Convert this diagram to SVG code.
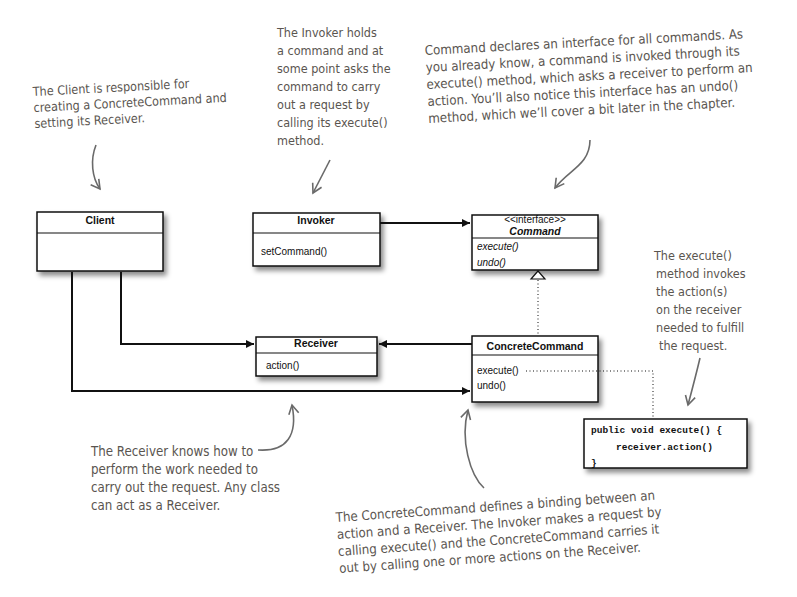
<svg xmlns="http://www.w3.org/2000/svg" width="797" height="597" viewBox="0 0 797 597">
<defs>
<filter id="sh" x="-10%" y="-10%" width="130%" height="140%">
<feDropShadow dx="3" dy="4" stdDeviation="2.5" flood-color="#000" flood-opacity="0.45"/>
</filter>
<marker id="fa" viewBox="0 0 10 10" refX="10" refY="5" markerWidth="10" markerHeight="8" markerUnits="userSpaceOnUse" orient="auto">
<path d="M0,0 L10,5 L0,10 Z" fill="#111"/>
</marker>
<marker id="ha" viewBox="0 0 12 12" refX="10" refY="6" markerWidth="12" markerHeight="12" markerUnits="userSpaceOnUse" orient="auto">
<path d="M1,1 L10,6 L1,11" fill="none" stroke="#6a6a6a" stroke-width="1.6"/>
</marker>
</defs>
<style>
.box{fill:#fff;stroke:#111;stroke-width:1.5;filter:url(#sh)}
.div{stroke:#111;stroke-width:1.2}
.nm{font-family:"Liberation Sans",Arial,sans-serif;font-size:10.5px;font-weight:bold;fill:#111;text-anchor:middle}
.mt{font-family:"Liberation Sans",Arial,sans-serif;font-size:10px;fill:#111}
.it{font-style:italic}
.code{font-family:"Liberation Mono","Courier New",monospace;font-size:9.5px;font-weight:bold;fill:#111}
.ln{fill:none;stroke:#111;stroke-width:2}
.dot{fill:none;stroke:#111;stroke-width:1;stroke-dasharray:1 2.5}
.hw{font-family:"Liberation Sans Narrow","DejaVu Sans Condensed","Liberation Sans",sans-serif;font-size:12.5px;fill:#5a5550}
.hl{font-size:13.2px}
.ha{fill:none;stroke:#6a6a6a;stroke-width:1.6;marker-end:url(#ha)}
</style>

<g id="client">
<rect class="box" x="37" y="212" width="126" height="59"/>
<line class="div" x1="37" y1="233" x2="163" y2="233"/>
<text class="nm" x="100" y="224">Client</text>
</g>

<g id="invoker">
<rect class="box" x="253" y="213" width="127" height="53"/>
<line class="div" x1="253" y1="233" x2="380" y2="233"/>
<text class="nm" x="316" y="224">Invoker</text>
<text class="mt" x="261" y="255">setCommand()</text>
</g>

<g id="command">
<rect class="box" x="472" y="215" width="126" height="55"/>
<line class="div" x1="472" y1="238" x2="598" y2="238"/>
<text class="mt" x="535" y="223" text-anchor="middle" font-size="8.5">&lt;&lt;interface&gt;&gt;</text>
<text class="nm it" x="535" y="235">Command</text>
<text class="mt it" x="477" y="250">execute()</text>
<text class="mt it" x="477" y="266">undo()</text>
</g>

<g id="receiver">
<rect class="box" x="256" y="337" width="121" height="39"/>
<line class="div" x1="256" y1="353" x2="377" y2="353"/>
<text class="nm" x="316" y="347">Receiver</text>
<text class="mt" x="266" y="369">action()</text>
</g>

<g id="concretecommand">
<rect class="box" x="472" y="336" width="126" height="66"/>
<line class="div" x1="472" y1="355" x2="598" y2="355"/>
<text class="nm" x="535" y="350">ConcreteCommand</text>
<text class="mt" x="477" y="374">execute()</text>
<text class="mt" x="477" y="389">undo()</text>
</g>

<g id="code">
<rect class="box" x="584" y="419" width="163" height="49"/>
<text class="code" x="591" y="433">public void execute() {</text>
<text class="code" x="616" y="450">receiver.action()</text>
<text class="code" x="591" y="466">}</text>
</g>

<g id="connectors">
<line class="ln" x1="380" y1="223" x2="470" y2="223" marker-end="url(#fa)"/>
<polyline class="ln" points="121,272 121,344 254,344" marker-end="url(#fa)"/>
<polyline class="ln" points="72,272 72,391 470,391" marker-end="url(#fa)"/>
<line class="ln" x1="472" y1="344" x2="379" y2="344" marker-end="url(#fa)"/>
<line class="dot" x1="538" y1="280" x2="538" y2="335"/>
<path d="M531,279 L538,271 L545,279 Z" fill="#fff" stroke="#111" stroke-width="1.2"/>
<polyline class="dot" points="526,371 653,371 653,418"/>
</g>

<g id="annotations">
<g transform="rotate(-3 33 96)">
<text class="hw" x="33" y="96">The Client is responsible for</text>
<text class="hw" x="33" y="112">creating a ConcreteCommand and</text>
<text class="hw" x="33" y="128">setting its Receiver.</text>
</g>
<path class="ha" d="M96,145 C90,160 92,178 100,189"/>

<text class="hw" x="277" y="37">The Invoker holds</text>
<text class="hw" x="277" y="55">a command and at</text>
<text class="hw" x="277" y="73">some point asks the</text>
<text class="hw" x="277" y="91">command to carry</text>
<text class="hw" x="277" y="109">out a request by</text>
<text class="hw" x="277" y="127">calling its execute()</text>
<text class="hw" x="277" y="145">method.</text>
<path class="ha" d="M330,160 L313,193"/>

<g transform="rotate(-3 425 55)">
<text class="hw hl" x="425" y="55">Command declares an interface for all commands. As</text>
<text class="hw hl" x="425" y="72">you already know, a command is invoked through its</text>
<text class="hw hl" x="425" y="89">execute() method, which asks a receiver to perform an</text>
<text class="hw hl" x="425" y="106">action. You’ll also notice this interface has an undo()</text>
<text class="hw hl" x="425" y="123">method, which we’ll cover a bit later in the chapter.</text>
</g>
<path class="ha" d="M590,140 C590,165 568,170 555,188"/>

<text class="hw" x="654" y="260">The execute()</text>
<text class="hw" x="656" y="278">method invokes</text>
<text class="hw" x="656" y="296">the action(s)</text>
<text class="hw" x="656" y="314">on the receiver</text>
<text class="hw" x="656" y="332">needed to fulfill</text>
<text class="hw" x="659" y="350">the request.</text>
<path class="ha" d="M700,358 C696,375 692,390 688,405"/>

<text class="hw hl" x="91" y="456">The Receiver knows how to</text>
<text class="hw hl" x="91" y="474">perform the work needed to</text>
<text class="hw hl" x="91" y="492">carry out the request. Any class</text>
<text class="hw hl" x="91" y="510">can act as a Receiver.</text>
<path class="ha" d="M258,450 C287,452 298,435 292,405"/>

<g transform="rotate(-4 336 522)">
<text class="hw hl" x="336" y="522">The ConcreteCommand defines a binding between an</text>
<text class="hw hl" x="336" y="539">action and a Receiver. The Invoker makes a request by</text>
<text class="hw hl" x="336" y="556">calling execute() and the ConcreteCommand carries it</text>
<text class="hw hl" x="336" y="573">out by calling one or more actions on the Receiver.</text>
</g>
<path class="ha" d="M484,488 C470,475 460,440 468,410"/>
</g>
</svg>
